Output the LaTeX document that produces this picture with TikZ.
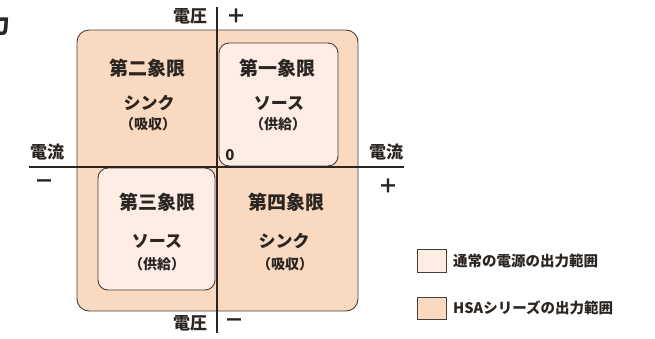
\documentclass[tikz,border=0pt]{standalone}
\usepackage{fontspec}
\setmainfont{Noto Sans CJK JP}
\definecolor{ink}{HTML}{2B2522}
\definecolor{edge}{HTML}{4A3E38}
\definecolor{outerfill}{HTML}{F9D9BF}
\definecolor{innerfill}{HTML}{FDEDE5}
\tikzset{
  outerbox/.style={draw=edge, line width=0.9pt, fill=outerfill, rounded corners=12pt},
  innerbox/.style={draw=edge, line width=0.9pt, fill=innerfill, rounded corners=10pt},
  axis/.style={draw=ink, line width=1.6pt},
  title/.style={text=ink, font=\fontsize{19}{19}\selectfont\bfseries, inner sep=0pt},
  kind/.style={text=ink, font=\fontsize{17}{17}\selectfont\bfseries, inner sep=0pt},
  paren/.style={text=ink, font=\fontsize{14}{14}\selectfont\bfseries, inner sep=0pt},
  axlabel/.style={text=ink, font=\fontsize{17}{17}\selectfont\bfseries, inner sep=0pt},
  sign/.style={text=ink, font=\fontsize{20}{20}\selectfont\bfseries, inner sep=0pt},
  legbox/.style={draw=edge, line width=1pt},
  legtext/.style={text=ink, font=\fontsize{14.5}{14.5}\selectfont\bfseries, inner sep=0pt, anchor=west},
}
\begin{document}
\begin{tikzpicture}[x=1pt,y=-1pt]
\useasboundingbox (0,0) rectangle (655,338);
% clipped fragment at top-left
\node[text=ink, font=\fontsize{24}{24}\selectfont\bfseries, inner sep=0pt, anchor=east] (frag) at (11,24) {力};
% regions
\draw[outerbox] (77,30) rectangle (358,311);
\draw[innerbox] (219,43) rectangle (338,166);
\draw[innerbox] (98,168) rectangle (215,290);
% axes
\coordinate (vtop) at (217,7);
\coordinate (vbot) at (217,333);
\coordinate (hleft) at (29,167);
\coordinate (hright) at (404,167);
\draw[axis] (vtop) -- (vbot);
\draw[axis] (hleft) -- (hright);
% axis labels
\node[axlabel] (vu) at (190,16) {電圧};
\node[sign] (vplus) at (236,16) {＋};
\node[axlabel] (vd) at (190,323) {電圧};
\node[sign] (vminus) at (234,323) {－};
\node[axlabel] (il) at (47,152) {電流};
\node[sign] (iminus) at (44,184) {－};
\node[axlabel] (ir) at (386,152) {電流};
\node[sign] (iplus) at (388,186) {＋};
\node[text=ink, font=\fontsize{15}{15}\selectfont\bfseries, inner sep=0pt] (zero) at (230,155) {0};
% quadrant texts
\node[title] (q2) at (147,68) {第二象限};
\node[kind] (q2k) at (149,103) {シンク};
\node[paren] (q2p) at (148,124) {（吸収）};
\node[title] (q1) at (277,68) {第一象限};
\node[kind] (q1k) at (279,103) {ソース};
\node[paren] (q1p) at (278,124) {（供給）};
\node[title] (q3) at (157,202) {第三象限};
\node[kind] (q3k) at (157,241) {ソース};
\node[paren] (q3p) at (157,264) {（供給）};
\node[title] (q4) at (286,202) {第四象限};
\node[kind] (q4k) at (284,241) {シンク};
\node[paren] (q4p) at (285,264) {（吸収）};
% legend
\draw[legbox, fill=innerfill] (417,249) rectangle (446,272);
\node[legtext] (l1) at (453,261) {通常の電源の出力範囲};
\draw[legbox, fill=outerfill] (417,297) rectangle (446,319);
\node[legtext] (l2) at (453,308) {HSAシリーズの出力範囲};
\end{tikzpicture}
\end{document}
